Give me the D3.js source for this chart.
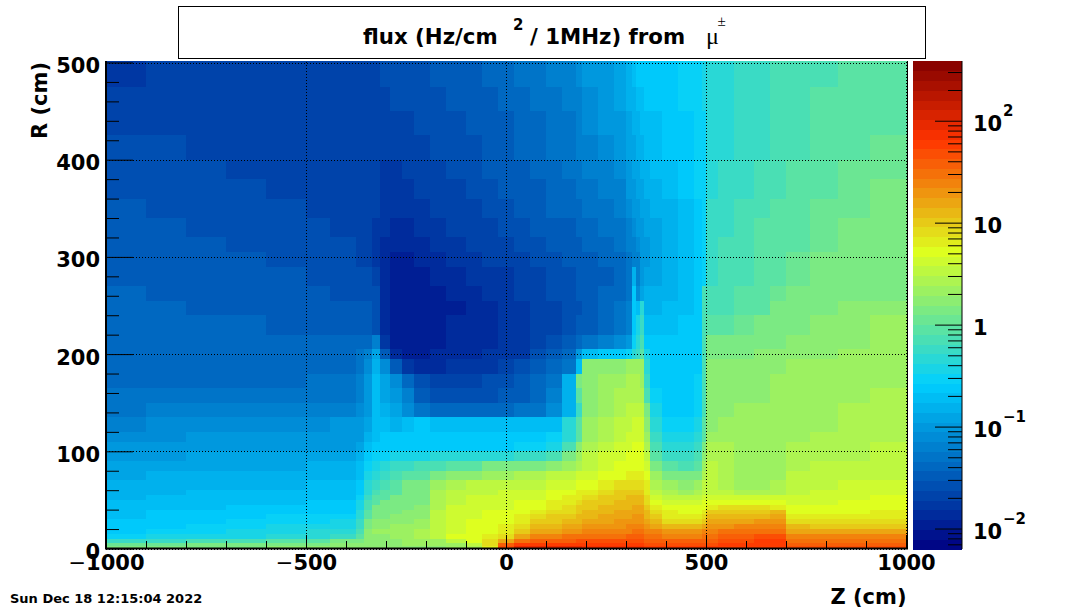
<!DOCTYPE html>
<html><head><meta charset="utf-8">
<script src="https://cdn.jsdelivr.net/npm/d3@7"></script>
<style>
html,body{margin:0;padding:0;background:#fff}
svg{display:block}
text{font-family:"DejaVu Sans",sans-serif;font-weight:bold;fill:#000}
</style></head><body>
<svg id="c" width="1068" height="610"></svg>
<script>
// Cell edges (cm)
const zEdges=[-1000,-900,-800,-700,-600,-500,-440,-375,-355,-335,-315,-290,-260,-230,-190,-150,-100,-60,-20,20,60,100,140,175,190,230,270,300,315,325,335,345,360,390,430,470,490,500,530,570,620,660,700,760,830,910,1000];
const rEdges=[500,475,450,425,400,380,360,340,320,305,290,270,255,240,220,205,195,180,165,150,135,120,110,100,90,80,70,60,55,50,45,40,35,30,25,20,15,10,6,3,0];
// Flux per cell, in dB (10*log10 of Hz/cm2 per MHz), top row first
const fluxDb=[
[-17.5,-17,-17,-17,-17,-17,-17, -17,-17,-16.5,-16,-16,-16,-15.5, -15,-15,-14.5,-14,-13.5,-13,-12.5,-12,-11.5,-11, -10.5,-10,-9,-8,-7,-6.5,-6.5,-6,-6,-6,-5.5,-5,-4.5, -3,-3,-2.5,-2,-1.5,-1,-1,-0.5,0],
[-17,-17,-17,-17,-17,-17,-17, -17,-17,-17,-16.5,-16,-16,-16, -15.5,-15,-14.5,-14.5,-14,-13.5,-13,-12.5,-12,-11.5, -11,-10,-9.5,-8.5,-8,-7.5,-7,-6.5,-6.5,-6,-5.5,-5,-4.5, -3,-3,-2.5,-2,-1.5,-1,-0.5,0,0],
[-16.5,-16.5,-16.5,-17,-17,-17,-17, -17,-17,-17,-17,-16.5,-16.5,-16, -16,-15.5,-15,-15,-14.5,-14,-13.5,-13,-12.5,-12, -11,-10.5,-10,-9,-8.5,-8,-7.5,-7,-7,-6.5,-6,-5.5,-5, -3,-3,-2.5,-2,-1.5,-1,-0.5,0,0],
[-16,-16,-16.5,-16.5,-17,-17,-17, -17,-17,-17,-17,-17,-17,-16.5, -16,-15.5,-15.5,-15,-14.5,-14,-13.5,-13,-12.5,-12, -11.5,-11,-10.5,-9.5,-9,-8.5,-8,-7.5,-7,-6.5,-6,-5.5,-5, -3,-3,-2.5,-2,-1.5,-1,-0.5,0,0.5],
[-15.5,-16,-16,-16.5,-17,-17,-17, -17,-17,-17,-17.5,-17.5,-17,-16.5, -16.5,-16,-15.5,-15,-15,-14.5,-14,-13.5,-13,-12.5, -12,-11.5,-11,-10,-9.5,-9,-8.5,-8,-7.5,-7,-6.5,-5.5,-5, -3,-2.5,-2,-1.5,-1,-0.5,0,0.5,0.5],
[-15.5,-15.5,-16,-16,-16.5,-16.5,-17, -17,-17,-17,-17.5,-17.5,-17.5,-17, -16.5,-16.5,-16,-15.5,-15,-15,-14.5,-14,-13.5,-13, -12.5,-12,-11.5,-10.5,-10,-9.5,-9,-8.5,-8,-7.5,-6.5,-5.5,-5, -3,-2.5,-2,-1.5,-1,-0.5,0,0.5,1],
[-15,-15.5,-15.5,-16,-16,-16.5,-16.5, -17,-17,-17,-17.5,-18,-18,-17.5, -17,-17,-16.5,-16,-15.5,-15,-14.5,-14,-14,-13.5, -13,-12.5,-12,-11,-10.5,-10,-9.5,-9,-8.5,-8,-7,-6,-5, -2.5,-2,-1.5,-1,-0.5,0,0.5,0.5,1],
[-15,-15,-15.5,-15.5,-16,-16,-16.5, -17,-17,-17.5,-18,-18.5,-18.5,-18, -17.5,-17,-17,-16.5,-16,-15.5,-15,-14.5,-14.5,-14, -13.5,-13,-12.5,-11.5,-11,-10.5,-10,-9.5,-9,-8,-7,-6,-5, -2.5,-2,-1.5,-0.5,0,0,0.5,1,1],
[-14.5,-15,-15,-15.5,-15.5,-16,-16, -16.5,-17,-17.5,-18.5,-19,-19,-18.5, -18,-17.5,-17,-17,-16.5,-16,-15.5,-15,-14.5,-14.5, -14,-13.5,-13,-12,-11.5,-11,-10.5,-10,-9.5,-8.5,-7,-6,-5, -2,-1.5,-1,-0.5,0,0,0.5,1,1.5],
[-14.5,-14.5,-15,-15,-15.5,-15.5,-16, -16.5,-17,-18,-19,-19.5,-19.5,-19, -18.5,-18,-17.5,-17,-17,-16.5,-16,-15.5,-15,-14.5, -14.5,-14,-13.5,-12.5,-12,-11.5,-10.5,-10,-9.5,-8.5,-7,-6,-5, -2,-1.5,-1,-0.5,0,0.5,1,1,1.5],
[-14.5,-14.5,-15,-15,-15,-15.5,-16, -16,-16,-16.5,-19,-19.5,-19.5,-19.5, -19,-18.5,-18,-17.5,-17.5,-17,-16.5,-16,-15.5,-15, -15,-14.5,-14,-13,-8,-12,-10,-9,-9,-8,-7,-6,-5, -2,-1.5,-1,-0.5,0,0.5,1,1,1.5],
[-14,-14.5,-14.5,-15,-15,-15,-15.5, -15.5,-16,-16,-19,-20,-20,-19.5, -19.5,-19,-18.5,-18,-17.5,-17,-16.5,-16,-15.5,-15, -15,-14,-14,-13,-6,-11,-9,-8,-8,-8,-7,-6,-1, -1,-1,-0.5,0,0.5,1,1,1.5,1.5],
[-14,-14,-14.5,-14.5,-15,-15,-15, -15,-15,-16,-19,-20,-20,-20, -19.5,-19.5,-19,-18.5,-18,-17.5,-17,-16.5,-16,-15.5, -15,-14,-13,-12,-6,-7,-3,-8,-8,-7,-7,-6,-1, -1,-1.5,-0.5,0,1,1,1.5,2,2],
[-14,-14,-14,-14,-14.5,-14.5,-15, -15,-15,-16,-19,-20,-20,-20, -19.5,-19,-19,-18.5,-18,-17.5,-17,-16.5,-16,-15, -14.5,-13.5,-13,-12,-6,-4,-2,-7,-7,-7,-6,-6,-1, 0,0,0.5,1,1,1.5,2,2,3],
[-14,-14,-14,-14,-14,-14,-14, -14,-14,-12,-18,-19.5,-20,-20, -19.5,-19,-19,-18.5,-18,-17.5,-16.5,-15.5,-14.5,-13.5, -13,-12,-11,-10,-5,-3,-1,-6,-6,-6,-6,-6,-1, 1,1,1,1,1.5,2,2,2.5,3],
[-14,-14,-14,-14,-14,-14,-14, -13,-12,-9,-15,-19,-19.5,-19.5, -19,-19,-18.5,-18,-18,-17.5,-16,-14.5,-13.5,-10, -7,-6,-6,-5,-3,-2,0,-4,-6,-6,-6,-6,-1, 1,1,1,2,2,2,2,3,3],
[-14,-14,-14,-14,-14,-14,-14, -13,-11,-8,-11,-15,-17.5,-18.5, -18.5,-18,-18,-17.5,-17,-16,-15,-14,-12.5,-7, 2,2,2,3,3,3,3,-3,-6,-6,-6,-6,-1, 2,2,2,2,2,3,3,3,3],
[-13.5,-13.5,-13.5,-13.5,-13.5,-13,-13, -12,-10,-7,-9,-11,-14,-16, -17,-17,-17,-16,-16,-15,-14,-12.5,-8,1, 2,3,3,4,4,4,3,-2,-6,-6,-6,-5,-1, 2,2,2,2,3,3,3,3,3],
[-13,-13,-13,-13,-13,-13,-13, -12,-10,-7,-9,-10,-12,-14.5, -15.5,-16,-16,-15.5,-15,-14.5,-13.5,-11.5,-8,0, 2,3,4,4,4,4,4,-1,-5,-6,-6,-5,-1, 2,2,2,2,3,3,3,3,4],
[-12.5,-12,-12,-12,-12,-12,-12, -11,-10,-7,-8,-9,-11,-13, -14,-14,-14,-14,-13.5,-13,-12.5,-11,-8,-2, 2,3,4,5,5,5,5,1,-4,-6,-6,-5,-1, 2,2,3,3,3,3,3,4,4],
[-11.5,-11,-11,-11,-11,-11,-10.5, -10,-9,-7,-7,-8,-7,-6, -7,-7,-7,-7,-7,-7,-7,-7,-3,0, 3,4,5,5.5,6,6,6,2,-3,-5,-5,-4,0, 2,3,3,3,3,3,3,4,4],
[-11,-11,-10.5,-10.5,-10,-10,-10, -10,-8,-7,-6,-6,-6,-6, -6,-6,-6,-6,-6,-6,-6,-5,-3,0, 3,4,5,6,6,6,6,3,-2,-4,-4,-3,0, 3,3,3,3,3,3,4,4,4],
[-10.5,-10,-10,-10,-10,-10,-10, -9,-7,-6,-6,-6,-6,-6, -6,-6,-6,-6,-6,-5,-5,-4,-1,2, 4,5,6,6,7,7,7,4,-1,-3,-3,-2,1, 4,4,3,3,3,4,4,4,5],
[-10,-10,-9.5,-9.5,-9,-9,-9, -8,-6,-5,-5,-4,-4,-4, -3,-3,-3,-3,-3,-2,-2,-1,1,3, 5,6,6,7,7,7,7,5,0,-2,-2,-1,2, 4,4,3,3,3,4,4,4,5],
[-9.5,-9,-9,-9,-9,-8.5,-8, -7,-5,-4,-3,-2,-2,-1, -1,0,0,1,1,1,1,2,3,4, 5,6,7,7,7,7,7,6,1,0,-1,0,3, 5,4,3,3,3,4,5,5,5],
[-9,-8.5,-8.5,-8,-8,-8,-8, -7,-4,-3,-2,-1,0,0, 1,2,2,3,3,4,4,5,5,6, 6,7,7,8,8,8,8,7,3,1,1,1,4, 5,4,3,3,3,5,5,5,5],
[-8.5,-8,-8,-8,-8,-7.5,-7, -6,-3,-2,-1,0,1,1, 3,4,5,5,5,5,5,6,6,7, 7,8,9,9,9,9,9,8,4,3,2,3,5, 5,4,3,3,4,5,5,6,6],
[-8,-8,-7.5,-7.5,-7.5,-7,-7, -6,-3,-1,0,0,1,1, 4,5,5,5,6,6,6,7,7,8, 8,9,10,10,10,10,10,8,5,4,3,4,5, 5,5,4,4,4,5,6,6,6],
[-8,-7.5,-7,-7,-7,-7,-7, -5,-2,0,0,1,1,1.5, 4.5,5.5,6,6,6,6,6,7,8,8, 9,10,10,11,11,11,11,9,6,5,5,5,6, 6,6,6,6,6,6,6,6,7],
[-7.5,-7,-7,-7,-7,-6.5,-6, -4,-1,0,1,1,1,1.5, 4.5,5.5,6,6,6,7,7,8,8,9, 10,10,11,11,11,11,11,9,7,6,6,6,7, 7,7,7,7,7,6,6,7,7],
[-7.5,-7,-7,-6.5,-6,-6,-6, -4,-1,1,1,1,1,2, 4.5,6,6,6,6,7,7,8,9,10, 10,11,11,11,12,12,12,10,8,7,7,7,7, 8,9,9,9,8,7,7,7,7],
[-7,-6.5,-6.5,-6,-6,-6,-6, -3,0,1,1,1,2,2, 5,6,6,7,7,7,8,9,9,10, 11,11,12,12,12,12,12,11,9,8,7,7,8, 10,10,10,10,11,7,7,7,8],
[-7,-6.5,-6,-6,-5.5,-5.5,-5, -3,0,1,1,2,2,2, 5,6,6,7,7,8,9,10,10,11, 11,12,12,12,13,13,13,11,10,8,8,8,9, 11,11,11,11,12,8,8,8,8],
[-6.5,-6,-6,-5.5,-5,-5,-4.5, -2,1,2,2,2,2,3, 5,6,7,7,7,8,10,10,11,11, 12,12,13,13,13,13,13,12,11,9,9,9,10, 12,12,12,13,13,9,9,9,9],
[-6,-6,-5.5,-5,-4.5,-4.5,-4, -2,1,2,2,3,3,3, 5,6,7,7,8,9,11,11,12,12, 13,13,13,14,14,14,14,13,12,11,11,11,12, 13,13,14,14,14,11,10,10,10],
[-6,-5.5,-5,-4.5,-4,-3.5,-3, -1,2,3,3,3,3,4, 5,6,7,7,8,10,12,12,13,13, 14,14,14,14,15,15,15,14,14,13,13,13,14, 14,15,15,15,15,12,12,12,12],
[-5,-4.5,-4,-4,-3,-3,-2, 0,2,2,2,3,3,4, 5,7,7,8,9,12,14,14,15,15, 15,15,15,16,16,16,16,15,15,14,14,14,15, 15,16,16,17,17,14,14,14,14],
[-2,-2,-1,-1,0,0,1, 1,2,2,2,2,3,3, 3,5,7,9,12,15,16,16,16,17, 17,17,17,17,17,17,17,16,16,16,16,16,16, 16,17,17,18,18,15,15,15,15],
[0.5,0.5,1,1,1,1.5,2, 2,2,2,2,2,3,3, 3,3,5,9,16,18,18,18,18,18, 18,18,18,18,18,18,18,17,17,17,17,17,17, 17,18,18,18,18,16,16,16,16],
[1,1,1,1.5,2,2,2, 2,2,2,2,2,2,2, 2,3,4,8,17,20,20,20,20,20, 19,19,19,19,19,19,19,18,18,18,18,18,18, 18,18,18,18,18,17,17,17,17]
];
fluxDb.forEach((r,i)=>{if(r.length!==zEdges.length-1)throw new Error("row "+i+" has "+r.length);});
if(fluxDb.length!==rEdges.length-1)throw new Error("rows "+fluxDb.length);
const zTicks=[-1000,-500,0,500,1000];
const zMinorTicks=[-900,-800,-700,-600,-400,-300,-200,-100,100,200,300,400,600,700,800,900];
const rTicks=[0,100,200,300,400,500];
const rMinorTicks=[20,40,60,80,120,140,160,180,220,240,260,280,320,340,360,380,420,440,460,480];
const fluxMajor=[0.01,0.1,1,10,100];
const fluxMinor=[0.007,0.008,0.009,0.02,0.03,0.04,0.05,0.06,0.07,0.08,0.09,0.2,0.3,0.4,0.5,0.6,0.7,0.8,0.9,2,3,4,5,6,7,8,9,20,30,40,50,60,70,80,90,200,300];
const paletteStops=[0,0.34,0.61,0.84,1];
const paletteColors=["#000082","#00cfff","#deff1f","#ff3300","#820000"];
const paletteLevels=50;
const fluxRange=[0.0063,385];

const svg=d3.select("#c");
const x=d3.scaleLinear().domain([-1000,1000]).range([106,906]);
const y=d3.scaleLinear().domain([0,500]).range([548.5,62.5]);
const cb=d3.scaleLog().domain(fluxRange).range([549,61]);
const t=d3.scaleLog().domain(fluxRange).range([0,1]).clamp(true);
const grad=d3.scaleLinear().domain(paletteStops).range(paletteColors).interpolate(d3.interpolateRgb);
const level=v=>Math.min(paletteLevels-1,Math.floor(t(v)*paletteLevels));
const colour=v=>grad((level(v)+0.5)/paletteLevels);

// heat map
const cells=svg.append("g").attr("shape-rendering","crispEdges");
fluxDb.forEach((row,i)=>{
  cells.selectAll(null).data(row).enter().append("rect")
    .attr("x",(d,j)=>x(zEdges[j]))
    .attr("y",i===0?61:y(rEdges[i]))
    .attr("width",(d,j)=>x(zEdges[j+1])-x(zEdges[j])+(j===row.length-1?1:0))
    .attr("height",y(rEdges[i+1])-(i===0?61:y(rEdges[i])))
    .attr("fill",d=>colour(Math.pow(10,d/10)));
});

// grid
const grid=svg.append("g").attr("stroke","#000").attr("stroke-width",1).attr("stroke-dasharray","1,2").attr("shape-rendering","crispEdges");
grid.selectAll(null).data(zTicks).enter().append("line").attr("x1",d=>Math.round(x(d))+0.5).attr("x2",d=>Math.round(x(d))+0.5).attr("y1",62).attr("y2",548);
grid.selectAll(null).data(rTicks).enter().append("line").attr("y1",d=>Math.round(y(d))+0.5).attr("y2",d=>Math.round(y(d))+0.5).attr("x1",106).attr("x2",907);

function minusify(sel){
  sel.each(function(){
    const s=d3.select(this),txt=s.text();
    if(txt[0]==="\u2212"){
      s.text(null);
      s.append("tspan").style("font-weight","normal").text("\u2212");
      s.append("tspan").text(txt.slice(1));
    }
  });
}
const fmt=d=>(d<0?"\u2212":"")+Math.abs(d);

// x axis
const xg=svg.append("g").attr("transform","translate(0,548)");
xg.append("g").call(d3.axisTop(x).tickValues(zMinorTicks).tickSize(7).tickFormat("")).call(g=>g.select(".domain").remove());
xg.append("g").call(d3.axisTop(x).tickValues(zTicks).tickSize(13).tickFormat("")).call(g=>g.select(".domain").remove());
xg.selectAll("line").attr("stroke","#000").attr("stroke-width",1);
const xl=svg.append("g").attr("transform","translate(0,548)");
xl.append("g").call(d3.axisBottom(x).tickValues(zTicks).tickSize(0).tickPadding(0).tickFormat(fmt))
  .call(g=>g.select(".domain").remove())
  .call(g=>g.selectAll("text").attr("y",22).attr("dy",0).style("font-size","21px").style("font-family",'"DejaVu Sans"').style("font-weight","bold").call(minusify));

// y axis
const yg=svg.append("g").attr("transform","translate(106,0)");
yg.append("g").call(d3.axisRight(y).tickValues(rMinorTicks).tickSize(13).tickFormat("")).call(g=>g.select(".domain").remove());
yg.append("g").call(d3.axisRight(y).tickValues(rTicks).tickSize(27).tickFormat("")).call(g=>g.select(".domain").remove());
yg.selectAll("line").attr("stroke","#000").attr("stroke-width",1);
const yl=svg.append("g").attr("transform","translate(106,0)");
yl.append("g").call(d3.axisLeft(y).tickValues(rTicks).tickSize(0).tickPadding(6).tickFormat(d=>d))
  .call(g=>g.select(".domain").remove())
  .call(g=>g.selectAll("text").attr("dy",null).attr("y",10).attr("x",-6).style("font-size","21px").style("font-family",'"DejaVu Sans"').style("font-weight","bold"));

// frame
svg.append("line").attr("x1",106).attr("x2",106).attr("y1",61).attr("y2",549).attr("stroke","#000").attr("stroke-width",2);
svg.append("line").attr("x1",105).attr("x2",908).attr("y1",548.5).attr("y2",548.5).attr("stroke","#000").attr("stroke-width",2);
svg.append("line").attr("x1",907.5).attr("x2",907.5).attr("y1",61).attr("y2",549).attr("stroke","#000").attr("stroke-width",1);

// palette
const pal=d3.range(paletteLevels);
svg.append("g").attr("shape-rendering","crispEdges").selectAll("rect").data(pal).enter().append("rect")
  .attr("x",913).attr("width",49)
  .attr("y",d=>549-(d+1)*488/paletteLevels)
  .attr("height",488/paletteLevels+0.5)
  .attr("fill",d=>grad((d+0.5)/paletteLevels));
const pg=svg.append("g").attr("transform","translate(962,0)");
pg.append("g").call(d3.axisLeft(cb).tickValues(fluxMinor).tickSize(14).tickFormat(""));
pg.append("g").call(d3.axisLeft(cb).tickValues(fluxMajor).tickSize(27).tickFormat(""));
pg.selectAll(".domain").remove();
pg.selectAll("line").attr("stroke","#000").attr("stroke-width",1);
svg.append("line").attr("x1",962).attr("x2",962).attr("y1",61).attr("y2",549).attr("stroke","#000").attr("stroke-width",1);

// palette labels
const expo=d3.scaleOrdinal().domain(fluxMajor).range(["\u22122","\u22121","","","2"]);
const base=d3.scaleOrdinal().domain(fluxMajor).range(["10","10","1","10","10"]);
const pl=svg.append("g").selectAll("g").data(fluxMajor).enter().append("g").attr("transform",d=>`translate(973,${cb(d)+10})`);
pl.append("text").attr("font-size",21).text(d=>base(d));
pl.append("text").attr("x",30).attr("y",-15).attr("font-size",15).text(d=>expo(d));

// title
svg.append("rect").attr("x",178.5).attr("y",6.5).attr("width",747).attr("height",52).attr("fill","#fff").attr("stroke","#000").attr("stroke-width",1);
svg.append("text").attr("x",363).attr("y",44).attr("font-size",21.3).text("flux (Hz/cm");
svg.append("text").attr("x",513).attr("y",29.5).attr("font-size",15).text("2");
svg.append("text").attr("x",530).attr("y",44).attr("font-size",21.3).text("/ 1MHz) from");
svg.append("text").attr("x",706).attr("y",44).attr("font-size",24).style("font-family",'"Liberation Serif"').style("font-weight","normal").text("\u03bc");
svg.append("text").attr("x",717.5).attr("y",26).attr("font-size",15).style("font-family",'"Liberation Serif"').style("font-weight","normal").text("\u00b1");

// axis titles and stamp
svg.append("text").attr("x",906.5).attr("y",604).attr("text-anchor","end").attr("font-size",21).text("Z (cm)");
svg.append("text").attr("transform","translate(47,62) rotate(-90)").attr("text-anchor","end").attr("font-size",21).text("R (cm)");
svg.append("text").attr("x",10).attr("y",603).attr("font-size",13).text("Sun Dec 18 12:15:04 2022");
</script>
</body></html>
